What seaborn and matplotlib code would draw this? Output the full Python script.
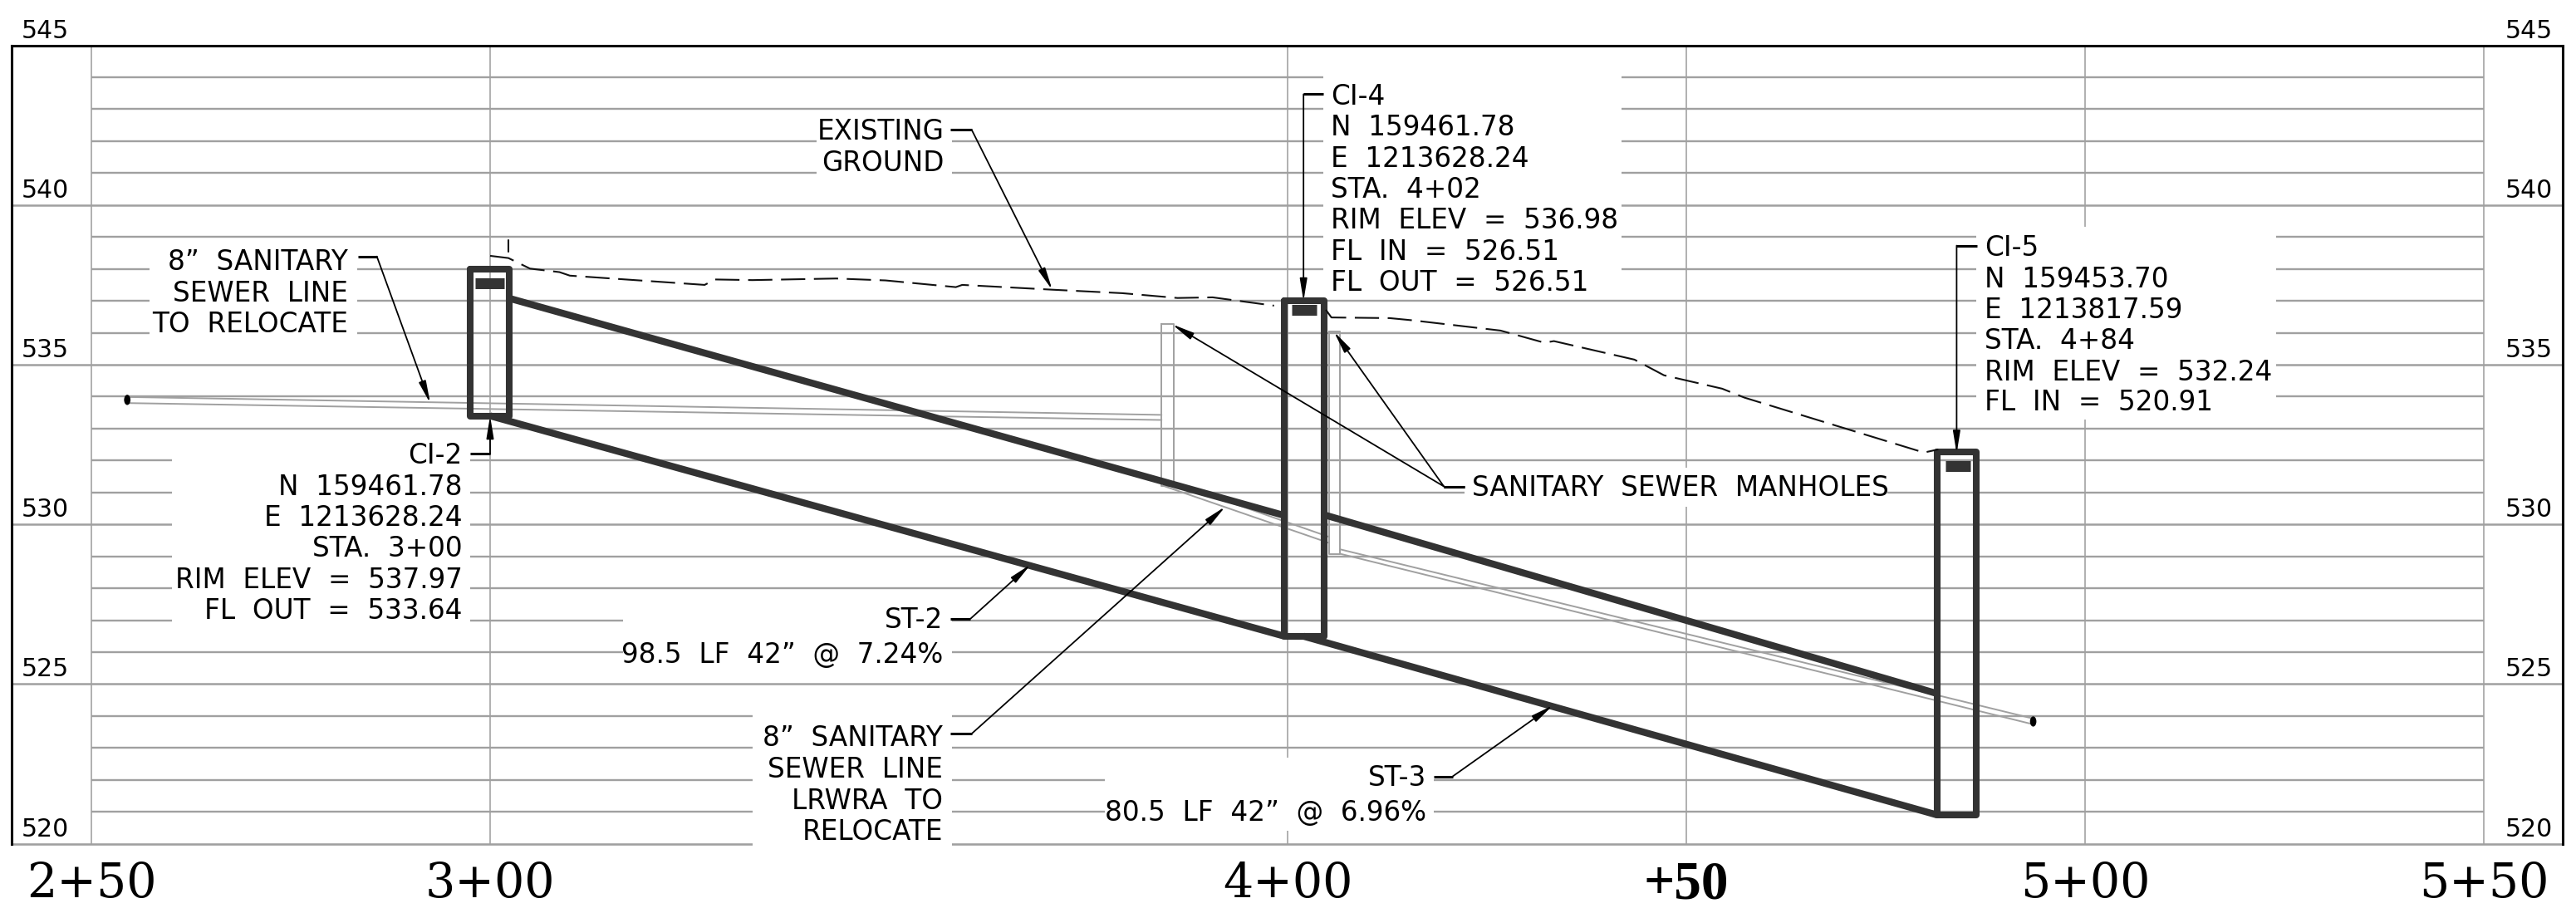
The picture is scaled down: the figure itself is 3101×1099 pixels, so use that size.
import matplotlib
matplotlib.use("Agg")
import matplotlib.pyplot as plt
from matplotlib.patches import Ellipse, Rectangle
from matplotlib.transforms import ScaledTranslation
import pandas as pd
import seaborn as sns

# ---------- axes / ticks ----------
station_ticks = [250, 300, 400, 450, 500, 550]
station_labels = ["2+50", "3+00", "4+00", "+50", "5+00", "5+50"]
elev_ticks = [520, 525, 530, 535, 540, 545]
elev_labels = ["520", "525", "530", "535", "540", "545"]
minor_elev = [521, 522, 523, 524, 526, 527, 528, 529, 531, 532, 533, 534,
              536, 537, 538, 539, 541, 542, 543, 544]

# ---------- structures ----------
ci2_sta = [297.5, 302.4, 302.4, 297.5, 297.5]
ci2_elev = [537.98, 537.98, 533.4, 533.4, 537.98]
ci4_sta = [399.6, 404.6, 404.6, 399.6, 399.6]
ci4_elev = [537.0, 537.0, 526.5, 526.5, 537.0]
ci5_sta = [481.5, 486.4, 486.4, 481.5, 481.5]
ci5_elev = [532.27, 532.27, 520.9, 520.9, 532.27]
inlet_sta = [[298.1, 301.8], [400.5, 403.6], [482.5, 485.6]]
inlet_elev = [[537.55, 537.55], [536.73, 536.73], [531.83, 531.83]]

# ---------- storm pipes ----------
st2_top_sta = [302.4, 399.6]
st2_top_elev = [537.08, 530.28]
st2_bot_sta = [300.0, 399.6]
st2_bot_elev = [533.4, 526.5]
st3_top_sta = [404.6, 481.5]
st3_top_elev = [530.3, 524.7]
st3_bot_sta = [402.0, 481.5]
st3_bot_elev = [526.5, 520.9]

# ---------- existing ground ----------
ground_a_sta = [300.0, 302.3, 305.0, 308.7, 310.0, 326.9, 328.2, 332.9, 343.4, 349.6,
                358.4, 359.2, 370.5, 379.3, 386.2, 390.6, 398.3]
ground_a_elev = [538.41, 538.34, 538.01, 537.9, 537.79, 537.5, 537.67, 537.65, 537.7, 537.64,
                 537.43, 537.5, 537.35, 537.24, 537.09, 537.11, 536.85]
ground_b_sta = [404.8, 405.5, 412.8, 415.7, 426.7, 432.2, 433.4, 443.5, 447.2, 454.5, 457.3,
                479.8, 481.6]
ground_b_elev = [536.72, 536.48, 536.46, 536.39, 536.07, 535.69, 535.74, 535.16, 534.67, 534.25,
                 533.97, 532.25, 532.35]
ground_tick_sta = [302.3, 302.3]
ground_tick_elev = [538.9, 538.55]

# ---------- sanitary sewer ----------
san_left_upper_sta = [254.5, 384.2]
san_left_upper_elev = [533.99, 533.43]
san_left_lower_sta = [254.5, 384.2]
san_left_lower_elev = [533.8, 533.27]
mh1_sta = [384.2, 385.7, 385.7, 384.2, 384.2]
mh1_elev = [536.27, 536.27, 531.21, 531.21, 536.27]
san_mid_upper_sta = [385.7, 405.2]
san_mid_upper_elev = [531.31, 529.61]
san_mid_lower_sta = [384.4, 405.2]
san_mid_lower_elev = [531.21, 529.42]
mh2_sta = [405.2, 406.6, 406.6, 405.2, 405.2]
mh2_elev = [536.04, 536.04, 529.08, 529.08, 536.04]
san_right_upper_sta = [406.6, 493.5]
san_right_upper_elev = [529.22, 523.92]
san_right_lower_sta = [406.6, 493.5]
san_right_lower_elev = [529.08, 523.74]
cap_sta = [254.5, 493.5]
cap_elev = [533.9, 523.83]

# ---------- leaders: start, elbow, tip(s) ----------
leader_sta = [(283.4, 285.8, 292.5), (357.7, 360.4, 370.5), (404.5, 402.0, 402.0),
              (486.5, 483.9, 483.9), (297.5, 300.0, 300.0), (422.2, 419.6, 385.5),
              (422.2, 419.6, 405.8), (357.7, 360.25, 367.8), (357.7, 360.4, 392.2),
              (418.3, 420.7, 433.3)]
leader_elev = [(538.39, 538.39, 533.79), (542.35, 542.35, 537.34), (543.47, 543.47, 536.99),
               (538.73, 538.73, 532.22), (532.21, 532.21, 533.4), (531.19, 531.19, 536.27),
               (531.19, 531.19, 536.04), (527.05, 527.05, 528.75), (523.45, 523.45, 530.56),
               (522.11, 522.11, 524.34)]

# ---------- text blocks: (lines, anchor station, alignment, baselines) ----------
ci2_lines = ["CI-2", "N 159461.78", "E 1213628.24", "STA. 3+00", "RIM ELEV = 537.97", "FL OUT = 533.64"]
ci2_base = [531.9, 530.93, 529.95, 528.98, 528.0, 527.04]
ci4_lines = ["CI-4", "N 159461.78", "E 1213628.24", "STA. 4+02", "RIM ELEV = 536.98",
             "FL IN = 526.51", "FL OUT = 526.51"]
ci4_base = [543.15, 542.18, 541.19, 540.24, 539.27, 538.29, 537.32]
ci5_lines = ["CI-5", "N 159453.70", "E 1213817.59", "STA. 4+84", "RIM ELEV = 532.24", "FL IN = 520.91"]
ci5_base = [538.41, 537.43, 536.46, 535.5, 534.5, 533.56]
san1_lines = ["8” SANITARY", "SEWER LINE", "TO RELOCATE"]
san1_base = [537.97, 536.99, 536.02]
ground_lines = ["EXISTING", "GROUND"]
ground_base = [542.04, 541.06]
st2_lines = ["ST-2", "98.5 LF 42” @ 7.24%"]
st2_base = [526.76, 525.67]
san2_lines = ["8” SANITARY", "SEWER LINE", "LRWRA TO", "RELOCATE"]
san2_base = [523.06, 522.07, 521.08, 520.11]
st3_lines = ["ST-3", "80.5 LF 42” @ 6.96%"]
st3_base = [521.81, 520.72]
mh_lines = ["SANITARY SEWER MANHOLES"]
mh_base = [530.89]

# ---------- text wipeouts (sta0, sta1, elev0, elev1) ----------
wipeouts = [(257.3, 283.3, 535.1, 538.93), (340.9, 357.9, 540.6, 542.4),
            (404.5, 441.9, 537.25, 544.4), (486.4, 524.0, 533.28, 539.32),
            (260.1, 297.5, 526.5, 532.5), (316.7, 357.9, 525.5, 527.4),
            (332.9, 357.9, 519.8, 524.5), (377.1, 418.3, 520.4, 522.7),
            (422.2, 475.2, 530.55, 531.78)]

DARK = "#333333"
GRID = "#a0a0a0"
VGRID = "#b0b0b0"
SEWER = "#a0a0a0"
W, H, DPI = 3101, 1099, 100
FONT = "DejaVu Sans"
TEXT_PT = 23.5

sns.set_theme(style="white")
plt.rcParams["font.family"] = [FONT]

fig = plt.figure(figsize=(W / DPI, H / DPI), dpi=DPI, facecolor="white")
ax = fig.add_axes([14 / W, 1 - 1015.7 / H, (3085 - 14) / W, (1015.7 - 54.6) / H])


def draw(xs, ys, color, lw, zorder=3, **kw):
    df = pd.DataFrame({"station": xs, "elevation": ys})
    sns.lineplot(data=df, x="station", y="elevation", ax=ax, color=color, linewidth=lw,
                 estimator=None, sort=False, errorbar=None, legend=False, zorder=zorder, **kw)


# grid
ax.hlines(minor_elev, 250, 550, color=GRID, lw=1.7, zorder=0.6)
ax.hlines(elev_ticks[1:-1], 240, 560, color=GRID, lw=1.8, zorder=0.6)
ax.hlines([520], 240, 560, color=GRID, lw=1.9, zorder=0.6, clip_on=False)
ax.vlines(station_ticks, 520, 545, color=VGRID, lw=1.4, zorder=0.5)

for s0, s1, e0, e1 in wipeouts:
    ax.add_patch(Rectangle((s0, e0), s1 - s0, e1 - e0, facecolor="white", edgecolor="none",
                           zorder=1, clip_on=False))

# sanitary sewer (light)
for xs, ys in [(san_left_upper_sta, san_left_upper_elev), (san_left_lower_sta, san_left_lower_elev),
               (mh1_sta, mh1_elev), (san_mid_upper_sta, san_mid_upper_elev),
               (san_mid_lower_sta, san_mid_lower_elev), (mh2_sta, mh2_elev),
               (san_right_upper_sta, san_right_upper_elev), (san_right_lower_sta, san_right_lower_elev)]:
    draw(xs, ys, SEWER, 1.4, zorder=2)
for s, e in zip(cap_sta, cap_elev):
    ax.add_patch(Ellipse((s, e), 0.8, 0.32, facecolor="black", edgecolor="none", zorder=4))

# storm structures and pipes
for xs, ys in [(st2_top_sta, st2_top_elev), (st2_bot_sta, st2_bot_elev),
               (st3_top_sta, st3_top_elev), (st3_bot_sta, st3_bot_elev)]:
    draw(xs, ys, DARK, 6.0, solid_capstyle="butt")
for xs, ys in [(ci2_sta, ci2_elev), (ci4_sta, ci4_elev), (ci5_sta, ci5_elev)]:
    draw(xs, ys, DARK, 5.8, solid_joinstyle="round", solid_capstyle="round")
for xs, ys in zip(inlet_sta, inlet_elev):
    draw(xs, ys, DARK, 9.4, solid_capstyle="butt")

# existing ground
dash = (0, (14, 5))
draw(ground_a_sta, ground_a_elev, "#111111", 1.5, zorder=3.5, linestyle=dash)
draw(ground_b_sta, ground_b_elev, "#111111", 1.5, zorder=3.5, linestyle=dash)
draw(ground_tick_sta, ground_tick_elev, "#111111", 1.5, zorder=3.5)

# leaders
for xs, ys in zip(leader_sta, leader_elev):
    draw(xs[:2], ys[:2], "black", 2.2, zorder=5, solid_capstyle="butt")
    ax.annotate("", xy=(xs[2], ys[2]), xytext=(xs[1], ys[1]), annotation_clip=False, zorder=5,
                arrowprops=dict(arrowstyle="-|>,head_length=16,head_width=2.6", mutation_scale=1,
                                color="black", lw=1.3, shrinkA=0, shrinkB=0))

# labels (the drawing uses wide word gaps)
blocks = [(ci2_lines, ci2_base, 296.5, "right"), (ci4_lines, ci4_base, 405.4, "left"),
          (ci5_lines, ci5_base, 487.4, "left"), (san1_lines, san1_base, 282.2, "right"),
          (ground_lines, ground_base, 356.9, "right"), (st2_lines, st2_base, 356.8, "right"),
          (san2_lines, san2_base, 356.8, "right"), (st3_lines, st3_base, 417.4, "right"),
          (mh_lines, mh_base, 423.1, "left")]
for lines, bases, anchor, align in blocks:
    for line, base in zip(lines, bases):
        ax.text(anchor, base, line.replace(" ", "  "), ha=align, va="baseline", fontsize=TEXT_PT,
                color="black", zorder=6)

# axes
ax.set_xlim(240, 559.9)
ax.set_ylim(520, 545)
ax.set_xlabel("")
ax.set_ylabel("")
ax.set_xticks(station_ticks, station_labels)
ax.set_yticks(elev_ticks, elev_labels)
ax.tick_params(axis="x", length=0, pad=14.5, labelsize=41)
ax.tick_params(axis="y", length=0, pad=-49.7, labelsize=21.5, labelleft=True, labelright=True)
for lab in ax.get_xticklabels():
    lab.set_fontfamily("DejaVu Serif")
    lab.set_color("black")
bold = ax.get_xticklabels()[3]
bold.set_fontfamily("Liberation Serif")
bold.set_fontweight("bold")
bold.set_fontsize(47)
nudge = ScaledTranslation(0, 3.0 / DPI, fig.dpi_scale_trans)
for tick in ax.yaxis.get_major_ticks():
    for lab in (tick.label1, tick.label2):
        lab.set_va("bottom")
        lab.set_color("black")
        lab.set_clip_on(False)
        lab.set_transform(lab.get_transform() + nudge)
        lab.set_zorder(6)
for side in ("top", "left", "right"):
    ax.spines[side].set_color("black")
    ax.spines[side].set_linewidth(2.2)
ax.spines["bottom"].set_visible(False)
ax.grid(False)
ax.set_facecolor("white")

fig.savefig("out.png", dpi=DPI, facecolor="white")
